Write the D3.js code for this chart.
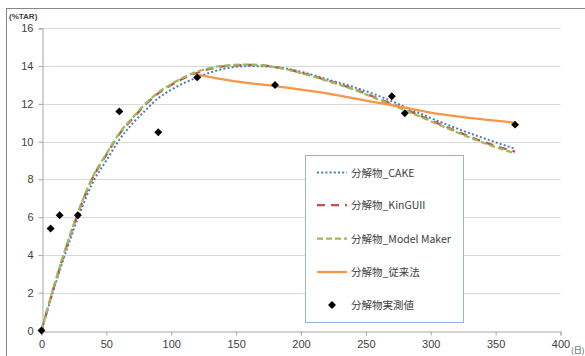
<!DOCTYPE html>
<html><head><meta charset="utf-8">
<script src="https://cdn.jsdelivr.net/npm/d3@7"></script>
<style>body{margin:0;background:#fff}svg{display:block}</style>
</head><body>
<script>
const days = [0,10,20,30,40,50,60,70,80,90,100,120,140,160,180,200,220,240,260,280,300,320,340,365];
const cake = [0,2.3,4.4,6.3,7.9,9.0,10.1,10.95,11.65,12.3,12.75,13.4,13.85,14.0,13.95,13.7,13.3,12.9,12.42,11.84,11.25,10.7,10.2,9.62];
const kingui = [0,2.4,4.6,6.55,8.15,9.3,10.4,11.2,11.95,12.55,13.0,13.65,13.98,14.06,13.95,13.65,13.25,12.8,12.27,11.72,11.13,10.55,10.0,9.47];
const modelMaker = [0,2.45,4.65,6.6,8.2,9.35,10.45,11.25,12.0,12.6,13.05,13.7,14.02,14.08,13.95,13.63,13.22,12.77,12.22,11.67,11.08,10.5,9.95,9.38];
const convDays = [120,140,160,180,200,220,240,260,280,300,320,340,365];
const conventional = [13.55,13.3,13.1,12.94,12.75,12.56,12.3,12.05,11.8,11.53,11.34,11.18,11.0];
const obsDays = [0,7,14,28,60,90,120,180,270,280,365];
const observed = [0,5.4,6.1,6.1,11.6,10.5,13.4,13.0,12.4,11.5,10.9];
const xTicks = [0,50,100,150,200,250,300,350,400];
const yTicks = [0,2,4,6,8,10,12,14,16];
const legendLabels = ["分解物_CAKE","分解物_KinGUII","分解物_Model Maker","分解物_従来法","分解物実測値"];

const W=585,H=356;
const svg=d3.select("body").append("svg").attr("width",W).attr("height",H);
svg.append("rect").attr("x",6.5).attr("y",8.5).attr("width",W).attr("height",H).attr("fill","#fff").attr("stroke","#878787");

const x=d3.scaleLinear().domain([0,400]).range([41.5,560.5]);
const y=d3.scaleLinear().domain([0,16]).range([330.5,28.3]);
const font="'Liberation Sans', Arial, sans-serif";

// gridlines
svg.append("g").selectAll("line").data(yTicks.filter(d=>d>0)).join("line")
  .attr("x1",x(0)).attr("x2",x(400)).attr("y1",d=>Math.round(y(d))+0.5).attr("y2",d=>Math.round(y(d))+0.5)
  .attr("stroke","#d9d9d9").attr("stroke-width",1);

// y axis
const ya=svg.append("g").attr("transform",`translate(${Math.round(x(0))+0.5},0)`)
  .call(d3.axisLeft(y).tickValues(yTicks).tickSize(4).tickPadding(5).tickFormat(d3.format("d")));
ya.select(".domain").attr("stroke","#a6a6a6");
ya.selectAll(".tick line").attr("stroke","#a6a6a6");
ya.selectAll("text").attr("font-family",font).attr("font-size",11).attr("fill","#404040");

// x axis
const xa=svg.append("g").attr("transform",`translate(0,${Math.round(y(0))+0.5})`)
  .call(d3.axisBottom(x).tickValues(xTicks).tickSize(4).tickPadding(5).tickFormat(d3.format("d")));
xa.select(".domain").attr("stroke","#a6a6a6");
xa.selectAll(".tick line").attr("stroke","#a6a6a6");
xa.selectAll("text").attr("font-family",font).attr("font-size",11).attr("fill","#404040");

svg.append("text").attr("x",9).attr("y",19).text("(%TAR)").attr("font-family",font).attr("font-size",8).attr("font-weight","bold").attr("fill","#404040");
svg.append("text").attr("x",571).attr("y",353).text("(日)").attr("font-family","'Noto Sans CJK JP', sans-serif").attr("font-size",8).attr("fill","#404040");

const series=[
  {xs:days,ys:cake,color:"#4a7ebb",dash:"2,2.2",w:2},
  {xs:days,ys:kingui,color:"#c0504d",dash:"8,6",w:2.25},
  {xs:days,ys:modelMaker,color:"#9bbb59",dash:"6,3",w:2.25},
  {xs:convDays,ys:conventional,color:"#f79646",dash:null,w:2.25}
];
const line=d3.line().curve(d3.curveMonotoneX);
series.forEach(s=>{
  svg.append("path").attr("d",line(s.xs.map((d,i)=>[x(d),y(s.ys[i])])))
    .attr("fill","none").attr("stroke",s.color).attr("stroke-width",s.w)
    .attr("stroke-dasharray",s.dash);
});

const diamond=d3.symbol().type(d3.symbolDiamond2).size(40);
svg.append("g").selectAll("path").data(obsDays).join("path")
  .attr("transform",(d,i)=>`translate(${x(d)},${y(observed[i])})`)
  .attr("d",diamond).attr("fill","#000");

// legend
const lg=svg.append("g");
lg.append("rect").attr("x",305.5).attr("y",155.5).attr("width",158).attr("height",167).attr("fill","#fff").attr("stroke","#95b3d7");
const ly=[172.5,205,238.5,272,305];
legendLabels.forEach((t,i)=>{
  if(i<4){
    const s=series[i];
    lg.append("line").attr("x1",317).attr("x2",347).attr("y1",ly[i]).attr("y2",ly[i])
      .attr("stroke",s.color).attr("stroke-width",s.w).attr("stroke-dasharray",s.dash);
  } else {
    lg.append("path").attr("transform",`translate(332,${ly[i]})`).attr("d",diamond).attr("fill","#000");
  }
  lg.append("text").attr("x",351).attr("y",ly[i]+4).text(t)
    .attr("font-family","'Noto Sans CJK JP', sans-serif").attr("font-size",10.5).attr("fill","#404040");
});
</script>
</body></html>
